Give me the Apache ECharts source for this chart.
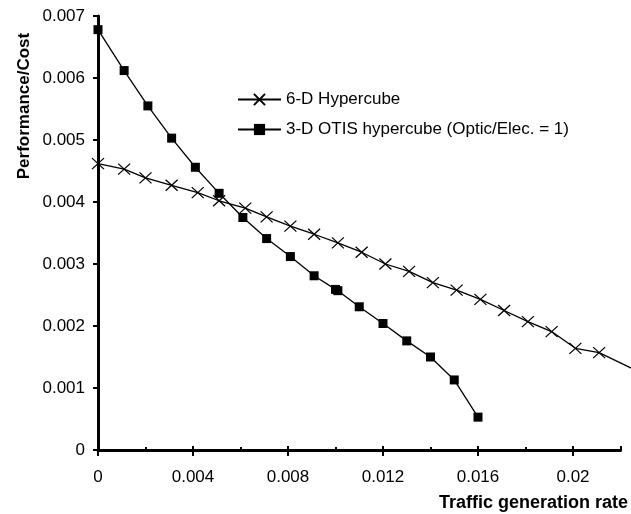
<!DOCTYPE html>
<html>
<head>
<meta charset="utf-8">
<script src="https://cdn.jsdelivr.net/npm/echarts@6/dist/echarts.min.js"></script>
<style>html,body{margin:0;padding:0;background:#fff;}#c{width:631px;height:514px;}</style>
</head>
<body>
<div id="c"></div>
<script>
var seriesNames = ['6-D Hypercube', '3-D OTIS hypercube (Optic/Elec. = 1)'];
var xTitle = 'Traffic generation rate';
var yTitle = 'Performance/Cost';

var hyperX = [0, 0.0011, 0.002, 0.0031, 0.0042, 0.0051, 0.0062, 0.0071, 0.0081, 0.0091, 0.0101, 0.0111, 0.0121, 0.0131, 0.0141, 0.0151, 0.0161, 0.0171, 0.0181, 0.0191, 0.0201, 0.0211, 0.0231];
var hyperY = [0.00462, 0.00453, 0.00439, 0.00427, 0.00415, 0.00402, 0.0039, 0.00376, 0.00361, 0.00348, 0.00334, 0.00319, 0.003, 0.00288, 0.0027, 0.00258, 0.00243, 0.00225, 0.00207, 0.00191, 0.00164, 0.00157, 0.0012];

var otisX = [0, 0.0011, 0.0021, 0.0031, 0.0041, 0.0051, 0.0061, 0.0071, 0.0081, 0.0091, 0.0100, 0.0101, 0.011, 0.012, 0.013, 0.014, 0.015, 0.016];
var otisY = [0.00678, 0.00612, 0.00555, 0.00503, 0.00456, 0.00414, 0.00375, 0.00341, 0.00312, 0.00281, 0.00259, 0.00257, 0.00231, 0.00204, 0.00176, 0.0015, 0.00113, 0.00053];

function pairs(xs, ys) { return xs.map(function (x, i) { return [x, ys[i]]; }); }
var FONT = 'Arial, "Liberation Sans", sans-serif';
function fmt(v) { return String(+v.toFixed(4)); }

var X_MAX = 0.022, Y_MAX = 0.007;
var GRID_LEFT = 98, GRID_RIGHT = 10.5, W = 631;
// an overlay grid reaching the canvas edge, with the same scale, so the line can run past the axis end
var overMax = X_MAX * (W - GRID_LEFT) / (W - GRID_RIGHT - GRID_LEFT);

var chart = echarts.init(document.getElementById('c'), null, { renderer: 'canvas' });
chart.setOption({
  backgroundColor: '#fff',
  animation: false,
  grid: [
    { left: GRID_LEFT, right: GRID_RIGHT, top: 16, bottom: 64, containLabel: false },
    { left: GRID_LEFT, right: 0, top: 16, bottom: 64, containLabel: false }
  ],
  legend: {
    orient: 'vertical', left: 232, top: 86, itemWidth: 43, itemHeight: 14, itemGap: 13,
    textStyle: { fontSize: 17, color: '#000', fontFamily: FONT },
    data: seriesNames
  },
  xAxis: [{
    type: 'value', gridIndex: 0, min: 0, max: X_MAX, interval: 0.004,
    axisLine: { onZero: false, lineStyle: { color: '#000', width: 3 } },
    axisTick: { show: true, inside: false, length: 6, lineStyle: { color: '#000', width: 2 } },
    axisLabel: { color: '#000', fontSize: 17, fontFamily: FONT, margin: 19, showMaxLabel: false, formatter: fmt },
    splitLine: { show: false }
  }, {
    type: 'value', gridIndex: 0, position: 'bottom', min: 0, max: X_MAX, interval: 0.004,
    axisLine: { show: false, onZero: false },
    axisTick: { show: true, inside: true, length: 4, lineStyle: { color: '#000', width: 2 } },
    minorTick: { show: true, splitNumber: 2, length: 3, lineStyle: { color: '#000', width: 2 } },
    axisLabel: { show: false },
    splitLine: { show: false }
  }, {
    type: 'value', gridIndex: 1, min: 0, max: overMax, show: false
  }],
  yAxis: [{
    type: 'value', gridIndex: 0, min: 0, max: Y_MAX, interval: 0.001,
    axisLine: { show: true, onZero: false, lineStyle: { color: '#000', width: 3 } },
    axisTick: { show: true, inside: false, length: 5, lineStyle: { color: '#000', width: 2 } },
    axisLabel: { color: '#000', fontSize: 17, fontFamily: FONT, margin: 13, formatter: fmt },
    splitLine: { show: false }
  }, {
    type: 'value', gridIndex: 1, min: 0, max: Y_MAX, show: false
  }],
  graphic: [
    { type: 'text', x: 24, y: 106, rotation: Math.PI / 2,
      style: { text: yTitle, font: 'bold 17px ' + FONT, fill: '#000', align: 'center', verticalAlign: 'middle' } },
    { type: 'text', x: 628, y: 503,
      style: { text: xTitle, font: 'bold 18px ' + FONT, fill: '#000', align: 'right', verticalAlign: 'middle' } }
  ],
  series: [{
    name: seriesNames[0], type: 'line', xAxisIndex: 2, yAxisIndex: 1,
    data: pairs(hyperX, hyperY),
    symbol: 'path://M0,0L10,10M10,0L0,10', symbolSize: [12, 11],
    itemStyle: { color: '#000', borderColor: '#000', borderWidth: 1.2 },
    lineStyle: { color: '#000', width: 1.3 }
  }, {
    name: seriesNames[1], type: 'line', xAxisIndex: 0, yAxisIndex: 0,
    data: pairs(otisX, otisY),
    symbol: 'rect', symbolSize: 9,
    itemStyle: { color: '#000', borderColor: '#000', borderWidth: 0 },
    lineStyle: { color: '#000', width: 1.3 }
  }]
});
</script>
</body>
</html>
